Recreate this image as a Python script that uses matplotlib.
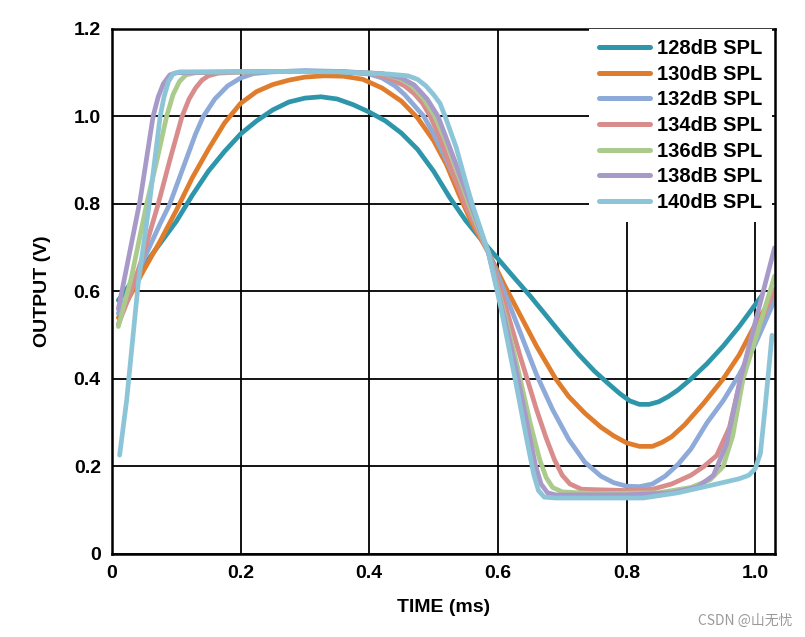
import matplotlib
matplotlib.use("Agg")
import matplotlib.pyplot as plt

# values, time in ms, output in V
labels = ["128dB SPL", "130dB SPL", "132dB SPL", "134dB SPL",
          "136dB SPL", "138dB SPL", "140dB SPL"]
colors = ["#2e96aa", "#e07d2c", "#8eaad8", "#d98c8c",
          "#abcb8c", "#a89ac8", "#8cc5d8"]

t128 = [0.01, 0.03, 0.05, 0.075, 0.10, 0.125, 0.15, 0.175, 0.20, 0.225, 0.25, 0.275,
        0.30, 0.325, 0.35, 0.375, 0.40, 0.425, 0.45, 0.475, 0.50, 0.525, 0.55, 0.575,
        0.60, 0.625, 0.65, 0.675, 0.70, 0.725, 0.75, 0.775, 0.79, 0.805, 0.82, 0.835,
        0.85, 0.865, 0.88, 0.90, 0.925, 0.95, 0.975, 1.00, 1.01]
v128 = [0.58, 0.62, 0.66, 0.71, 0.76, 0.82, 0.875, 0.92, 0.96, 0.99, 1.015, 1.033,
        1.042, 1.045, 1.04, 1.027, 1.01, 0.99, 0.962, 0.925, 0.875, 0.815, 0.762, 0.717,
        0.675, 0.632, 0.59, 0.545, 0.50, 0.457, 0.418, 0.385, 0.366, 0.350, 0.342, 0.342,
        0.348, 0.36, 0.375, 0.40, 0.435, 0.475, 0.52, 0.57, 0.59]

t130 = [0.01, 0.03, 0.05, 0.075, 0.10, 0.125, 0.15, 0.175, 0.20, 0.225, 0.25, 0.275,
        0.30, 0.33, 0.36, 0.39, 0.42, 0.45, 0.475, 0.50, 0.52, 0.54, 0.56, 0.585,
        0.61, 0.635, 0.66, 0.69, 0.71, 0.735, 0.76, 0.78, 0.80, 0.82, 0.84, 0.855,
        0.87, 0.89, 0.92, 0.95, 0.975, 1.00, 1.03]
v130 = [0.54, 0.595, 0.65, 0.715, 0.785, 0.86, 0.925, 0.985, 1.03, 1.057, 1.073, 1.083,
        1.09, 1.093, 1.092, 1.085, 1.065, 1.035, 0.997, 0.945, 0.89, 0.82, 0.755, 0.69,
        0.615, 0.545, 0.475, 0.40, 0.36, 0.322, 0.29, 0.27, 0.254, 0.246, 0.246, 0.255,
        0.268, 0.295, 0.345, 0.40, 0.455, 0.525, 0.595]

t132 = [0.01, 0.03, 0.05, 0.075, 0.09, 0.11, 0.13, 0.142, 0.16, 0.18, 0.20, 0.22,
        0.25, 0.30, 0.35, 0.40, 0.42, 0.44, 0.455, 0.47, 0.485, 0.50, 0.52, 0.54, 0.56,
        0.585, 0.61, 0.635, 0.66, 0.685, 0.71, 0.735, 0.76, 0.78, 0.80, 0.82, 0.84, 0.86,
        0.88, 0.90, 0.925, 0.95, 0.975, 1.00, 1.03]
v132 = [0.55, 0.61, 0.675, 0.755, 0.80, 0.88, 0.96, 1.00, 1.04, 1.07, 1.088, 1.098,
        1.102, 1.105, 1.103, 1.097, 1.088, 1.07, 1.05, 1.025, 1.00, 0.96, 0.90, 0.835, 0.765,
        0.69, 0.60, 0.505, 0.41, 0.33, 0.262, 0.21, 0.178, 0.163, 0.155, 0.154, 0.16, 0.178,
        0.205, 0.24, 0.30, 0.35, 0.41, 0.48, 0.58]

t134 = [0.01, 0.03, 0.05, 0.072, 0.09, 0.109, 0.12, 0.13, 0.14, 0.15, 0.165, 0.19, 0.25, 0.35,
        0.41, 0.435, 0.455, 0.47, 0.483, 0.495, 0.51, 0.53, 0.55, 0.585, 0.61, 0.635, 0.66,
        0.675, 0.688, 0.70, 0.712, 0.73, 0.80, 0.84, 0.87, 0.90, 0.92, 0.94, 0.96, 0.977,
        1.00, 1.03]
v134 = [0.525, 0.60, 0.69, 0.80, 0.90, 1.00, 1.04, 1.065, 1.083, 1.093, 1.099, 1.101, 1.103, 1.103,
        1.097, 1.085, 1.07, 1.052, 1.03, 1.00, 0.95, 0.87, 0.795, 0.69, 0.575, 0.45, 0.33,
        0.265, 0.215, 0.18, 0.16, 0.148, 0.145, 0.148, 0.16, 0.18, 0.20, 0.225, 0.29, 0.40,
        0.50, 0.605]

t136 = [0.01, 0.03, 0.054, 0.07, 0.085, 0.095, 0.105, 0.115, 0.13, 0.25, 0.35, 0.42,
        0.45, 0.468, 0.485, 0.502, 0.52, 0.54, 0.56, 0.585, 0.61, 0.63, 0.65, 0.665,
        0.675, 0.685, 0.70, 0.75, 0.85, 0.90, 0.93, 0.95, 0.965, 0.981, 1.00, 1.03]
v136 = [0.52, 0.63, 0.80, 0.90, 1.00, 1.05, 1.08, 1.095, 1.10, 1.103, 1.103, 1.098,
        1.085, 1.068, 1.04, 1.00, 0.94, 0.86, 0.78, 0.69, 0.55, 0.43, 0.30, 0.215,
        0.175, 0.152, 0.142, 0.138, 0.14, 0.152, 0.17, 0.20, 0.27, 0.40, 0.49, 0.635]

t138 = [0.01, 0.025, 0.044, 0.064, 0.072, 0.08, 0.09, 0.10, 0.25, 0.35, 0.42, 0.45,
        0.47, 0.49, 0.507, 0.525, 0.545, 0.56, 0.585, 0.61, 0.63, 0.645, 0.658, 0.667,
        0.677, 0.69, 0.80, 0.87, 0.91, 0.935, 0.955, 0.977, 1.00, 1.03]
v138 = [0.56, 0.67, 0.81, 1.00, 1.045, 1.075, 1.095, 1.10, 1.103, 1.103, 1.098, 1.088,
        1.072, 1.04, 1.00, 0.93, 0.85, 0.79, 0.69, 0.54, 0.41, 0.30, 0.205, 0.16,
        0.14, 0.135, 0.135, 0.14, 0.153, 0.18, 0.25, 0.40, 0.53, 0.70]

t140 = [0.012, 0.023, 0.041, 0.059, 0.075, 0.081, 0.088, 0.095, 0.105, 0.25, 0.35, 0.43,
        0.46, 0.475, 0.488, 0.50, 0.51, 0.518, 0.535, 0.55, 0.56, 0.585, 0.605, 0.627,
        0.645, 0.656, 0.663, 0.672, 0.69, 0.826, 0.88, 0.94, 0.975, 0.99, 1.0, 1.008,
        1.015, 1.026]
v140 = [0.226, 0.352, 0.62, 0.81, 1.00, 1.045, 1.08, 1.097, 1.102, 1.103, 1.102, 1.097,
        1.093, 1.085, 1.07, 1.05, 1.03, 1.00, 0.93, 0.85, 0.80, 0.69, 0.56, 0.398,
        0.26, 0.18, 0.145, 0.13, 0.128, 0.128, 0.14, 0.16, 0.172, 0.18, 0.195, 0.23,
        0.33, 0.50]

times = [t128, t130, t132, t134, t136, t138, t140]
outputs = [v128, v130, v132, v134, v136, v138, v140]

plt.rcParams['font.family'] = ['Liberation Sans', 'DejaVu Sans']

fig = plt.figure(figsize=(8.05, 6.37), dpi=100)
ax = fig.add_axes([0.139, 0.1303, 0.824, 0.8242])

for t, v, c, lab in zip(times, outputs, colors, labels):
    ax.plot(t, v, color=c, lw=3.4, label=lab, solid_capstyle='round',
            solid_joinstyle='round')

ax.set_xlim(0, 1.031)
ax.set_ylim(0, 1.2)
ax.set_xticks([0, 0.2, 0.4, 0.6, 0.8, 1.0])
ax.set_xticklabels(["0", "0.2", "0.4", "0.6", "0.8", "1.0"])
ax.set_yticks([0, 0.2, 0.4, 0.6, 0.8, 1.0, 1.2])
ax.set_yticklabels(["0", "0.2", "0.4", "0.6", "0.8", "1.0", "1.2"])
ax.grid(True, color='black', lw=1.3)
ax.set_axisbelow(True)
ax.tick_params(length=0, labelsize=14, pad=8)
for lb in ax.get_xticklabels() + ax.get_yticklabels():
    lb.set_fontweight('bold')
for sp in ax.spines.values():
    sp.set_linewidth(1.8)

ax.set_xlabel("TIME (ms)", fontsize=14, fontweight='bold', labelpad=12)
ax.set_ylabel("OUTPUT (V)", fontsize=14, fontweight='bold', labelpad=16)

leg = ax.legend(loc='upper right', prop={'weight': 'bold', 'size': 14.5},
                frameon=True, facecolor='white', edgecolor='none', framealpha=1,
                fancybox=False, handlelength=2.5, handletextpad=0.35,
                labelspacing=0.33, borderaxespad=0.0, borderpad=0.5)
leg.set_bbox_to_anchor((0.995, 1.0), transform=ax.transAxes)
for line in leg.get_lines():
    line.set_linewidth(3.6)

fig.text(0.985, 0.015, "CSDN @山无忧", ha='right', va='bottom', fontsize=10, color='#9a9a9a',
         family=['Noto Sans CJK SC', 'DejaVu Sans'])

fig.savefig("out.png", dpi=100)
